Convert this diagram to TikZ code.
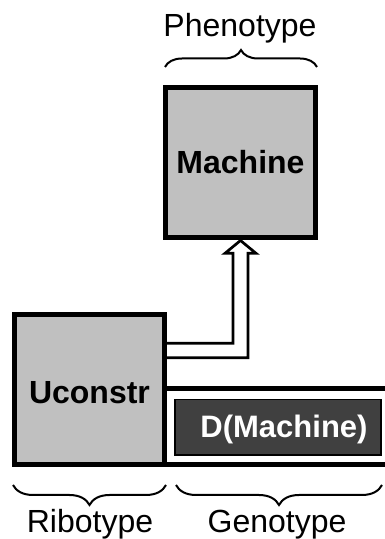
\documentclass[tikz,border=0pt]{standalone}
\usepackage{fontspec}
\setmainfont{Liberation Sans}
\usetikzlibrary{calc,decorations.pathreplacing}
\definecolor{boxgray}{HTML}{C0C0C0}
\definecolor{darkbox}{HTML}{404040}
\begin{document}
\begin{tikzpicture}[x=1pt,y=1pt,
  bigbox/.style={draw=black, line width=5pt, fill=boxgray, minimum width=150pt, minimum height=150pt,
    inner sep=0pt, outer sep=0pt, font=\fontsize{32}{38}\selectfont\bfseries, text depth=0pt},
  genoline/.style={line width=4.5pt},
  gene/.style={draw=black, line width=1.5pt, fill=darkbox, minimum width=206pt, minimum height=55.5pt,
    inner sep=0pt, outer sep=0pt, text=white, font=\fontsize{31}{37}\selectfont\bfseries,
    text height=20.9pt, text depth=0pt},
  hollowarrow/.style={line width=2.7pt, miter limit=10},
  bracestyle/.style={decorate, decoration={brace, amplitude=#1}, line width=2pt},
  lbl/.style={anchor=base, font=\fontsize{32}{38}\selectfont}
]
\useasboundingbox (0,0) rectangle (385,539);
% genotype strip
\coordinate (gl) at (164.5,74.5);
\draw[genoline] (gl) -- ++(240,0);
\draw[genoline] ($(gl)+(0,75.8)$) -- ++(240,0);
% boxes
\node[bigbox, text height=21.6pt] (M) at (240.5,376.5) {Machine};
\node[bigbox, text height=27.6pt] (U) at (89.5,149.5) {Uconstr};
\node[gene] (D) at (278,111.75) {\hspace*{12pt}D(Machine)};
% hollow arrow
\coordinate (tip) at ($(M.south)+(0,-3)$);
\coordinate (a1) at ($(U.east)+(0,46.2)$);
\coordinate (a2) at ($(U.east)+(0,31.8)$);
\draw[hollowarrow] (a1) -- ($(tip |- a1)+(-7.5,0)$) -- ($(tip)+(-7.5,-12.8)$)
  -- ($(tip)+(-15.5,-12.8)$) -- (tip) -- ($(tip)+(15.5,-12.8)$) -- ($(tip)+(7.5,-12.8)$)
  -- ($(tip |- a2)+(7.5,0)$) -- (a2);
% braces
\draw[bracestyle=17pt] (165,472) -- (317,472);
\draw[bracestyle=20pt] (166,54) -- (13,54);
\draw[bracestyle=20pt] (382,54) -- (176,54);
% labels
\node[lbl] (pheno) at (240,502) {Phenotype};
\node[lbl] (ribo) at (90,6) {Ribotype};
\node[lbl] (geno) at (277,6) {Genotype};
\end{tikzpicture}
\end{document}
